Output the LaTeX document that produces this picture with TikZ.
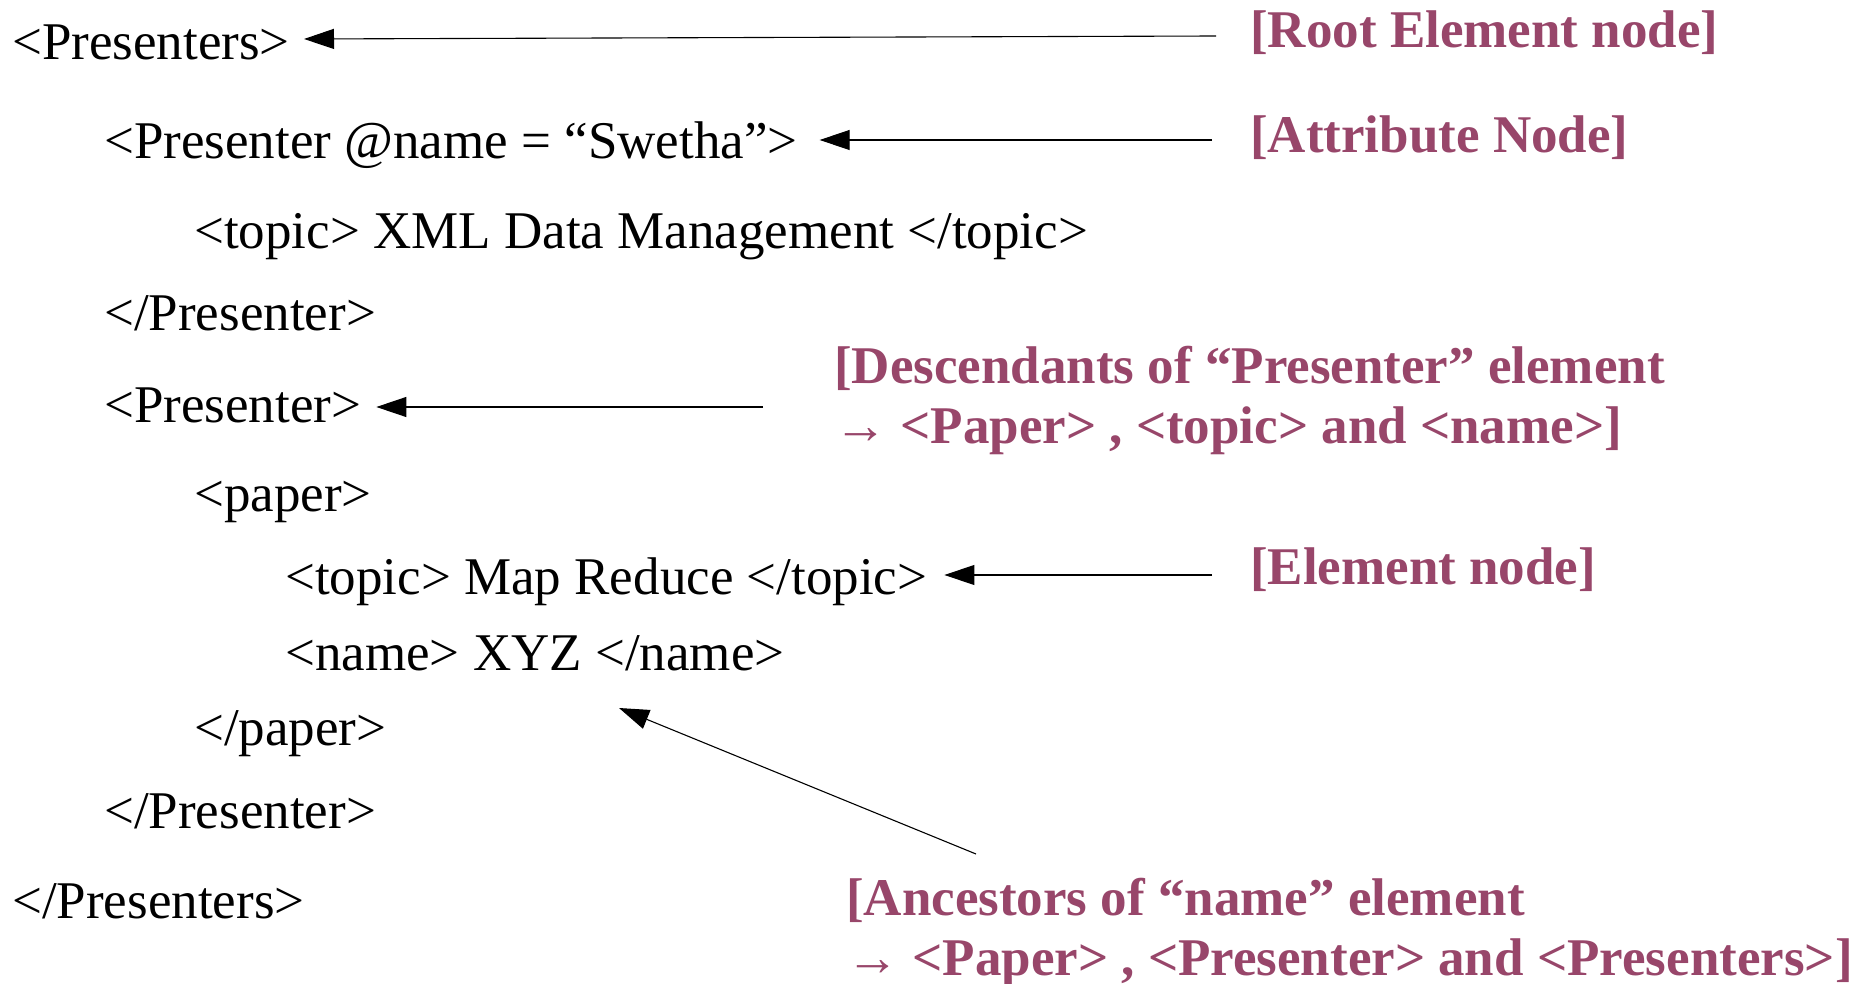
\documentclass[tikz,border=0pt]{standalone}
\usepackage{fontspec}
\setmainfont{Liberation Serif}
\usetikzlibrary{arrows.meta}
\definecolor{lblcol}{RGB}{152,70,106}
\begin{document}
\begin{tikzpicture}[x=1pt,y=-1pt,
  code/.style={anchor=base west,inner sep=0pt,font=\fontsize{53}{60}\selectfont},
  lbl/.style={anchor=base west,inner sep=0pt,align=left,text=lblcol,font=\fontsize{53}{60}\selectfont\bfseries},
  arr/.style={-{Triangle[length=30pt,width=20pt]},line width=1.1pt,black}]
\useasboundingbox[fill=white] (0,0) rectangle (1875,984);
% code lines
\node[code] (root)  at (12,60)  {<Presenters>};
\node[code] (p1)    at (104,159) {<Presenter @name = “Swetha”>};
\node[code] (t1)    at (194,249) {<topic> XML Data Management </topic>};
\node[code] (p1e)   at (104,331) {</Presenter>};
\node[code] (p2)    at (104,422) {<Presenter>};
\node[code] (pap)   at (194,511) {<paper>};
\node[code] (t2)    at (285,594) {<topic> Map Reduce </topic>};
\node[code] (nm)    at (285,670) {<name> XYZ </name>};
\node[code] (pape)  at (194,745) {</paper>};
\node[code] (p2e)   at (104,828) {</Presenter>};
\node[code] (roote) at (12,918) {</Presenters>};
% labels (base = baseline of last line)
\node[lbl] (lroot) at (1250,48)  {[Root Element node]};
\node[lbl] (lattr) at (1250,153) {[Attribute Node]};
\node[lbl] (ldesc) at (834,443)  {[Descendants of “Presenter” element\\→ <Paper> , <topic> and <name>]};
\node[lbl] (lelem) at (1250,584) {[Element node]};
\node[lbl] (lanc)  at (846,975)  {[Ancestors of “name” element\\→ <Paper> , <Presenter> and <Presenters>]};
% arrows
\draw[arr] ([shift={(-34,-12)}]lroot.base west) -- ([shift={(14,-21)}]root.base east);
\draw[arr] ([shift={(-38,-13)}]lattr.base west) -- ([shift={(22,-19)}]p1.base east);
\draw[arr] ([shift={(-71,-36)}]ldesc.base west) -- ([shift={(15,-15)}]p2.base east);
\draw[arr] ([shift={(-38,-9)}]lelem.base west) -- ([shift={(17,-19)}]t2.base east);
\draw[arr] ([shift={(130,-121)}]lanc.base west) -- ([shift={(334,38)}]nm.base west);
\end{tikzpicture}
\end{document}
